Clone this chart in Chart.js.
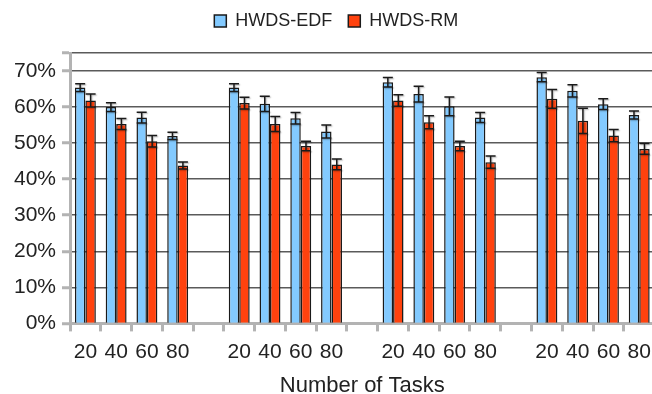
<!DOCTYPE html>
<html>
<head>
<meta charset="utf-8">
<script src="https://cdn.jsdelivr.net/npm/chart.js@4.4.1/dist/chart.umd.min.js"></script>
<style>
html, body { margin: 0; padding: 0; overflow: hidden; background: #fff; }
#wrap { width: 672px; height: 394px; }
</style>
</head>
<body>
<div id="wrap"><canvas id="stage"></canvas></div>
<script>
// number of tasks in each group, 4 groups with a blank slot between them
const taskCounts = ['20', '40', '60', '80'];
const groupCount = 4;

// mean ratio (%) per group, in order 20,40,60,80
const edfMean = [65.4, 60.0, 57.1, 52.0,  65.4, 60.9, 56.9, 53.2,  66.9, 63.6, 60.2, 57.1,  68.3, 64.5, 60.8, 57.8];
const edfErr  = [1.1, 1.2, 1.5, 1.0,  1.1, 2.1, 1.6, 1.8,  1.3, 2.2, 2.6, 1.4,  1.3, 1.7, 1.5, 1.1];
const rmMean  = [61.8, 55.3, 50.5, 43.8,  61.1, 55.3, 49.2, 44.1,  61.8, 55.8, 49.2, 44.7,  62.3, 56.2, 52.1, 48.4];
const rmErr   = [1.8, 1.5, 1.6, 1.0,  1.6, 2.1, 1.3, 1.5,  1.6, 1.8, 1.3, 1.7,  2.6, 3.5, 1.7, 1.5];

const yTicks = [0, 10, 20, 30, 40, 50, 60, 70];

// spread 16 values over 19 slots (blank slot after each group but the last)
function withGaps(arr) {
    var out = [];
    for (var g = 0; g < groupCount; ++g) {
        for (var i = 0; i < taskCounts.length; ++i) {
            out.push(arr[g * taskCounts.length + i]);
        }
        if (g < groupCount - 1) out.push(null);
    }
    return out;
}

var labels = withGaps(taskCounts.concat(taskCounts, taskCounts, taskCounts)).map(v => v === null ? '' : v);

// extra room under the legend, and nudge it right a bit
const legendGap = {
    id: 'legendGap',
    beforeInit(chart) {
        const fit = chart.legend.fit;
        chart.legend.fit = function() {
            fit.bind(chart.legend)();
            this.height += 13;
        };
    },
    afterLayout(chart) {
        chart.legend.left += 8;
    }
};

const errorBars = {
    id: 'errorBars',
    afterDatasetsDraw(chart) {
        const ctx = chart.ctx;
        const y = chart.scales.y;
        chart.data.datasets.forEach((ds, di) => {
            const meta = chart.getDatasetMeta(di);
            meta.data.forEach((bar, i) => {
                const v = ds.data[i], e = ds.errors[i];
                if (v === null || v === undefined) return;
                const yt = y.getPixelForValue(v + e);
                const yb = y.getPixelForValue(v - e);
                const x = bar.x, hw = 5;
                ctx.save();
                ctx.shadowColor = 'rgba(0,0,0,0.3)';
                ctx.shadowBlur = 1.5;
                ctx.shadowOffsetX = 1;
                ctx.shadowOffsetY = 1;
                ctx.strokeStyle = '#1a1a1a';
                ctx.lineWidth = 1.5;
                ctx.beginPath();
                ctx.moveTo(x, yt); ctx.lineTo(x, yb);
                ctx.moveTo(x - hw, yt); ctx.lineTo(x + hw, yt);
                ctx.moveTo(x - hw, yb); ctx.lineTo(x + hw, yb);
                ctx.stroke();
                ctx.restore();
            });
        });
    }
};

var data = {
    labels: labels,
    datasets: [
        {
            label: 'HWDS-EDF',
            data: withGaps(edfMean),
            errors: withGaps(edfErr),
            backgroundColor: '#83caff',
            borderColor: '#1a1a1a',
            borderWidth: 1.5
        },
        {
            label: 'HWDS-RM',
            data: withGaps(rmMean),
            errors: withGaps(rmErr),
            backgroundColor: '#ff420e',
            borderColor: '#1a1a1a',
            borderWidth: 1.5
        }
    ]
};

var options = {
    responsive: true,
    maintainAspectRatio: false,
    animation: false,
    layout: { padding: { left: 10, right: 17.4, top: -4, bottom: -5 } },
    datasets: { bar: { categoryPercentage: 0.68, barPercentage: 1.0 } },
    plugins: {
        legend: {
            position: 'top',
            labels: {
                boxWidth: 12,
                boxHeight: 12,
                padding: 16,
                color: '#222',
                font: { family: 'Liberation Sans', size: 18 }
            }
        },
        tooltip: { enabled: false }
    },
    scales: {
        x: {
            grid: {
                display: true,
                drawOnChartArea: false,
                offset: true,
                tickLength: 8,
                tickColor: '#b3b3b3',
                tickWidth: 3
            },
            border: { color: '#b3b3b3', width: 3 },
            ticks: {
                autoSkip: false,
                maxRotation: 0,
                padding: 8,
                color: '#222',
                font: { family: 'Liberation Sans', size: 21 }
            },
            title: {
                display: true,
                text: 'Number of Tasks',
                color: '#222',
                padding: { top: 0, bottom: 0 },
                font: { family: 'Liberation Sans', size: 22 }
            }
        },
        y: {
            min: 0,
            max: 75,
            afterBuildTicks: function(axis) {
                axis.ticks = yTicks.concat([75]).map(v => ({ value: v }));
            },
            afterFit: function(axis) { axis.width = 60; },
            grid: {
                color: '#5a5a5a',
                lineWidth: 1.5,
                tickLength: 8,
                tickColor: '#b3b3b3',
                tickWidth: 3
            },
            border: { color: '#b3b3b3', width: 3 },
            ticks: {
                padding: 6,
                color: '#222',
                font: { family: 'Liberation Sans', size: 21 },
                callback: function(v) { return v === 75 ? '' : v + '%'; }
            }
        }
    }
};

var b_chart = new Chart(document.getElementById('stage'), {
    type: 'bar',
    data: data,
    options: options,
    plugins: [legendGap, errorBars]
});
</script>
</body>
</html>
